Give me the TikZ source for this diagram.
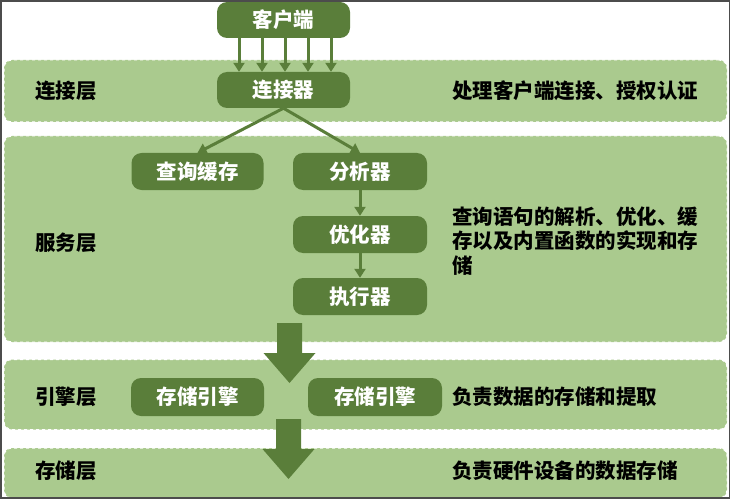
\documentclass[tikz,border=0pt]{standalone}
\usepackage{fontspec}
\setmainfont{Noto Sans CJK SC}
\usetikzlibrary{arrows.meta}
\definecolor{dkgreen}{HTML}{5A7E3A}
\definecolor{ltgreen}{HTML}{AACA8E}
\tikzset{
  band/.style={fill=ltgreen, draw=white, dashed, line width=1pt, rounded corners=8pt, inner sep=0pt},
  unit/.style={fill=dkgreen, rounded corners=10pt, text=white, font=\fontsize{20.5}{24}\selectfont\bfseries, inner sep=0pt},
  layer/.style={anchor=west, font=\fontsize{20.5}{24}\selectfont\bfseries, inner sep=0pt},
  note/.style={anchor=west, align=left, font=\fontsize{20.5}{24.5}\selectfont\bfseries, inner sep=0pt},
  flow/.style={draw=dkgreen, line width=3pt, -{Triangle[length=9pt,width=11pt]}},
  bigarrow/.pic={\fill[dkgreen] (-12.5,0) -- (12.5,0) -- (12.5,30) -- (26,30) -- (0,60) -- (-26,30) -- (-12.5,30) -- cycle;}
}
\begin{document}
\begin{tikzpicture}[x=1pt,y=-1pt]
  \useasboundingbox (0,0) rectangle (731,500);
  % layers
  \node[band, minimum width=723, minimum height=62] (linkband) at (365.5,91) {};
  \node[band, minimum width=723, minimum height=206] (servband) at (365.5,239) {};
  \node[band, minimum width=723, minimum height=70] (engband) at (365.5,394.5) {};
  \node[band, minimum width=723, minimum height=50] (storeband) at (365.5,473) {};
  % units
  \node[unit, minimum width=133, minimum height=36] (client) at (283.5,20) {客户端};
  \node[unit, minimum width=133, minimum height=36] (conn) at (283.5,90) {连接器};
  \node[unit, minimum width=132, minimum height=37] (cache) at (197.5,171.5) {查询缓存};
  \node[unit, minimum width=134, minimum height=37] (parser) at (360,171.5) {分析器};
  \node[unit, minimum width=134, minimum height=37] (optim) at (360,234.5) {优化器};
  \node[unit, minimum width=134, minimum height=37] (exec) at (360,296.5) {执行器};
  \node[unit, minimum width=133, minimum height=38] (eng1) at (197.5,397) {存储引擎};
  \node[unit, minimum width=134, minimum height=38] (eng2) at (375,397) {存储引擎};
  % connectors
  \foreach \dx in {-46,-23,0,23,46}
    \draw[flow] ([xshift=\dx+1.5]client.south) -- ([xshift=\dx+1.5]conn.north);
  \draw[flow] (conn.south) -- (cache.north);
  \draw[flow] (conn.south) -- (parser.north);
  \draw[flow] (parser) -- (optim);
  \draw[flow] (optim) -- (exec);
  \coordinate (drop1) at (289.5,323);
  \coordinate (drop2) at (288.5,419);
  \pic at (drop1) {bigarrow};
  \pic at (drop2) {bigarrow};
  % texts
  \node[layer] (linklbl) at (35,91) {连接层};
  \node[layer] (servlbl) at (35,243) {服务层};
  \node[layer] (englbl) at (35,397) {引擎层};
  \node[layer] (storelbl) at (35,471) {存储层};
  \node[note] (linknote) at (452,91) {处理客户端连接、授权认证};
  \node[note] (servnote) at (452,241) {查询语句的解析、优化、缓\\存以及内置函数的实现和存\\储};
  \node[note] (engnote) at (452,397) {负责数据的存储和提取};
  \node[note] (storenote) at (452,471) {负责硬件设备的数据存储};
  % frame
  \draw[gray!60!black, line width=1.2pt] (1,1) rectangle (729.5,498);
\end{tikzpicture}
\end{document}
